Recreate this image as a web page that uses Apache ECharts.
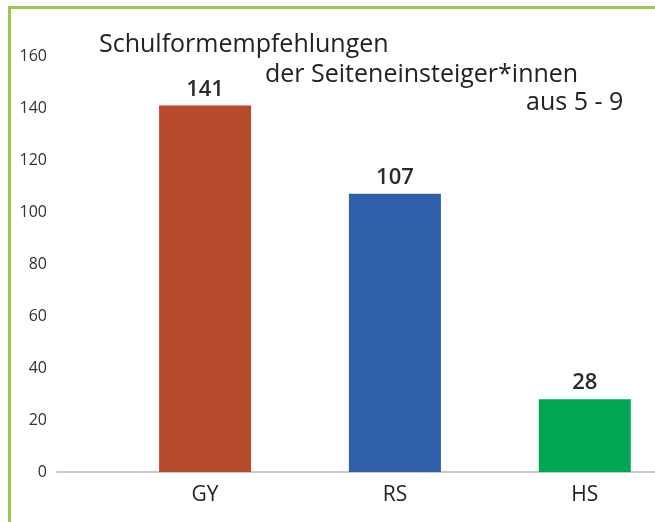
<!DOCTYPE html>
<html>
<head>
<meta charset="utf-8">
<script src="https://cdn.jsdelivr.net/npm/echarts@6/dist/echarts.min.js"></script>
<style>
  html, body { margin: 0; padding: 0; background: #fff; }
  #chart { position: absolute; left: 0; top: 0; width: 655px; height: 522px; }
  #frame { position: absolute; left: 8px; top: 6px; width: 660px; height: 530px;
           border-top: 3px solid #9bc94b; border-left: 3px solid #9bc94b; pointer-events: none; }
</style>
</head>
<body>
<div id="chart"></div>
<div id="frame"></div>
<script>
const categories = ['GY', 'RS', 'HS'];
const values = [141, 107, 28];
const barColors = ['#b64a2d', '#2f5fab', '#00a651'];
const yTicks = [0, 20, 40, 60, 80, 100, 120, 140, 160];

const chart = echarts.init(document.getElementById('chart'));

const titleStyle = {fontFamily: 'Open Sans', fontSize: 25, fontWeight: 'normal', color: '#222'};

let option = {
    animation: false,
    title: [
        {text: 'Schulformempfehlungen', left: 94, top: 27, textStyle: titleStyle},
        {text: 'der Seiteneinsteiger*innen', left: 260, top: 57, textStyle: titleStyle},
        {text: 'aus 5 - 9', left: 521, top: 85, textStyle: titleStyle}
    ],
    grid: {left: 57, right: 0, top: 56, bottom: 50, containLabel: false},
    xAxis: {
        type: 'value',
        min: 0.22,
        max: 3.37,
        splitLine: {show: false},
        axisLine: {show: true, lineStyle: {color: '#b8b8b8', width: 1.5}},
        axisTick: {show: false},
        axisLabel: {
            customValues: [1, 2, 3],
            formatter: v => categories[Math.round(v) - 1] || '',
            margin: 13,
            fontFamily: 'Open Sans', fontSize: 21, color: '#222'
        }
    },
    yAxis: {
        type: 'value',
        min: 0,
        max: 160,
        interval: 20,
        splitLine: {show: false},
        axisLine: {show: false},
        axisTick: {show: false},
        axisLabel: {margin: 10, fontFamily: 'Open Sans', fontSize: 16, color: '#333'}
    },
    series: [
        {
            type: 'bar',
            barWidth: 92,
            data: values.map((v, i) => ({value: [i + 1, v], itemStyle: {color: barColors[i]}})),
            label: {
                show: true,
                position: 'top',
                distance: 5,
                formatter: p => p.value[1],
                fontFamily: 'Open Sans', fontSize: 22, fontWeight: 600, color: '#2a2a2a'
            }
        }
    ]
};
chart.setOption(option);
</script>
</body>
</html>
